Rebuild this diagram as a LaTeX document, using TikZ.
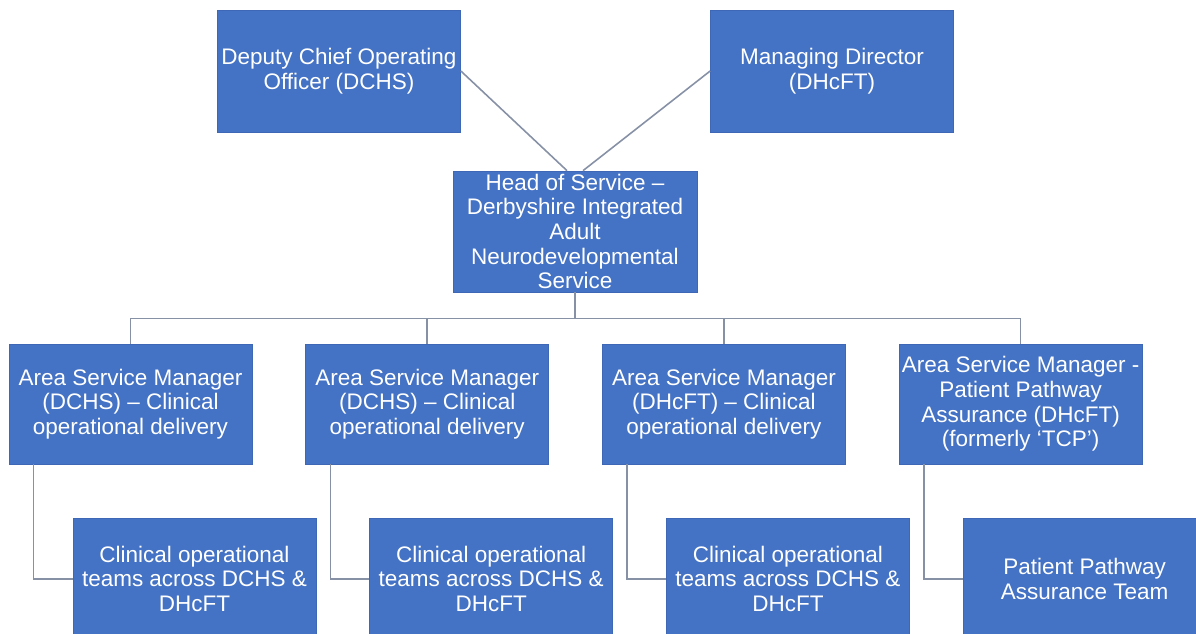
\documentclass[tikz,border=0pt]{standalone}
\usepackage{fontspec}
\setmainfont{Liberation Sans}
\usepackage{tikz}
\usetikzlibrary{positioning,calc}
\definecolor{orgBlue}{RGB}{68,114,196}
\definecolor{orgEdge}{RGB}{62,104,182}
\definecolor{orgLine}{RGB}{135,145,165}

\begin{document}
\begin{tikzpicture}[
  box/.style={draw=orgEdge, line width=0.4pt, fill=orgBlue, text=white, align=center,
              font=\fontsize{12.8}{14}\selectfont, minimum width=4.86cm,
              minimum height=2.4cm, inner sep=1pt},
  conn/.style={orgLine, line width=0.9pt}]
  \useasboundingbox (0,0) rectangle (23.92,-12.66);
  \node[box, minimum height=2.44cm] (dcoo) at (6.78,-1.42) {Deputy Chief Operating\\Officer (DCHS)};
  \node[box, minimum height=2.44cm] (md) at (16.64,-1.42) {Managing Director\\(DHcFT)};
  \node[box, minimum width=4.88cm, minimum height=2.42cm] (head) at (11.5,-4.63)
    {Head of Service --\\Derbyshire Integrated\\Adult\\Neurodevelopmental\\Service};
  \node[box] (asmA) at (2.61,-8.08) {Area Service Manager\\(DCHS) -- Clinical\\operational delivery};
  \node[box, right=1.06cm of asmA] (asmB) {Area Service Manager\\(DCHS) -- Clinical\\operational delivery};
  \node[box, right=1.06cm of asmB] (asmC) {Area Service Manager\\(DHcFT) -- Clinical\\operational delivery};
  \node[box, right=1.06cm of asmC] (asmD) {Area Service Manager -\\Patient Pathway\\Assurance (DHcFT)\\(formerly `TCP')};
  \node[box, below=1.08cm of asmA, xshift=1.28cm] (teamA) {Clinical operational\\teams across DCHS \&\\DHcFT};
  \node[box, below=1.08cm of asmB, xshift=1.28cm] (teamB) {Clinical operational\\teams across DCHS \&\\DHcFT};
  \node[box, below=1.08cm of asmC, xshift=1.28cm] (teamC) {Clinical operational\\teams across DCHS \&\\DHcFT};
  \node[box, below=1.08cm of asmD, xshift=1.28cm] (teamD) {Patient Pathway\\Assurance Team};
  % top links
  \draw[conn] (dcoo.east) -- ([xshift=-0.16cm]head.north);
  \draw[conn] (md.west) -- ([xshift=0.16cm]head.north);
  % bus to area managers
  \coordinate (bus) at ($(head.south)+(0,-0.52)$);
  \draw[conn] (head.south) -- (bus);
  \draw[conn] (asmA.north) |- (bus) -| (asmD.north);
  \draw[conn] (asmB.north) -- (asmB.north |- bus);
  \draw[conn] (asmC.north) -- (asmC.north |- bus);
  % teams
  \draw[conn] ([xshift=0.5cm]asmA.south west) |- (teamA.west);
  \draw[conn] ([xshift=0.5cm]asmB.south west) |- (teamB.west);
  \draw[conn] ([xshift=0.5cm]asmC.south west) |- (teamC.west);
  \draw[conn] ([xshift=0.5cm]asmD.south west) |- (teamD.west);
\end{tikzpicture}
\end{document}
